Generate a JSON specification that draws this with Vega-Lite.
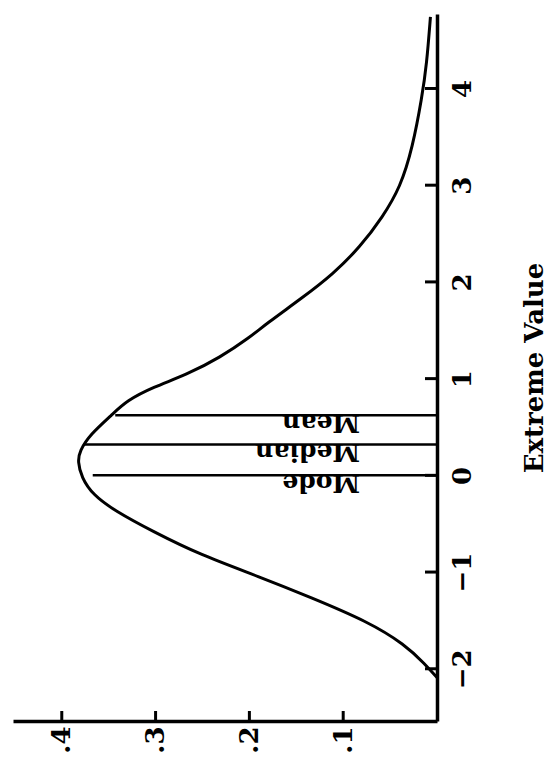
{
  "$schema": "https://vega.github.io/schema/vega-lite/v6.json",
  "width": 424,
  "height": 707,
  "padding": {"left": 13, "top": 10, "right": 0, "bottom": 0},
  "background": "white",
  "config": {"view": {"stroke": null}, "font": "DejaVu Serif"},
  "datasets": {
    "curve": [
      {"v": -2.09, "d": 0.0},
      {"v": -1.95, "d": 0.013},
      {"v": -1.75, "d": 0.034},
      {"v": -1.51, "d": 0.074},
      {"v": -1.26, "d": 0.135},
      {"v": -1.05, "d": 0.189},
      {"v": -0.82, "d": 0.253},
      {"v": -0.58, "d": 0.303},
      {"v": -0.37, "d": 0.343},
      {"v": -0.2, "d": 0.367},
      {"v": -0.02, "d": 0.379},
      {"v": 0.145, "d": 0.383},
      {"v": 0.25, "d": 0.381},
      {"v": 0.42, "d": 0.37},
      {"v": 0.63, "d": 0.346},
      {"v": 0.77, "d": 0.331},
      {"v": 0.91, "d": 0.303},
      {"v": 1.04, "d": 0.267},
      {"v": 1.22, "d": 0.231},
      {"v": 1.43, "d": 0.199},
      {"v": 1.56, "d": 0.183},
      {"v": 1.84, "d": 0.143},
      {"v": 2.08, "d": 0.111},
      {"v": 2.36, "d": 0.082},
      {"v": 2.67, "d": 0.058},
      {"v": 2.98, "d": 0.039},
      {"v": 3.39, "d": 0.026},
      {"v": 3.91, "d": 0.016},
      {"v": 4.25, "d": 0.011},
      {"v": 4.74, "d": 0.007}
    ],
    "lines": [
      {"label": "Mode", "v": 0, "dend": 0.367},
      {"label": "Median", "v": 0.32, "dend": 0.377},
      {"label": "Mean", "v": 0.62, "dend": 0.343}
    ],
    "xticks": [{"d": 0.1}, {"d": 0.2}, {"d": 0.3}, {"d": 0.4}],
    "yticks": [{"v": -2}, {"v": -1}, {"v": 0}, {"v": 1}, {"v": 2}, {"v": 3}, {"v": 4}]
  },
  "layer": [
    {
      "data": {"name": "curve"},
      "mark": {"type": "line", "color": "black", "strokeWidth": 3, "interpolate": "basis"},
      "encoding": {
        "x": {
          "field": "d",
          "type": "quantitative",
          "scale": {"domain": [0, 0.452], "reverse": true, "nice": false, "zero": false},
          "axis": {
            "orient": "bottom",
            "values": [0.1, 0.2, 0.3, 0.4],
            "labelExpr": "'.' + round(datum.value*10)",
            "labelAngle": -90,
            "labelAlign": "right",
            "labelBaseline": "middle",
            "labelFont": "DejaVu Serif",
            "labelFontWeight": "bold",
            "labelFontSize": 26,
            "labelColor": "black",
            "labelFlush": false,
            "labelOverlap": false,
            "labelPadding": 5,
            "ticks": false,
            "tickSize": 0,
            "domainColor": "black",
            "domainWidth": 3.5,
            "grid": false,
            "title": null
          }
        },
        "y": {
          "field": "v",
          "type": "quantitative",
          "scale": {"domain": [-2.54, 4.77], "nice": false, "zero": false},
          "axis": {
            "orient": "right",
            "values": [-2, -1, 0, 1, 2, 3, 4],
            "format": "d",
            "labelAngle": -90,
            "labelAlign": "center",
            "labelBaseline": "top",
            "labelFont": "DejaVu Serif",
            "labelFontWeight": "bold",
            "labelFontSize": 26,
            "labelColor": "black",
            "labelFlush": false,
            "labelOverlap": false,
            "labelPadding": 12,
            "ticks": false,
            "tickSize": 0,
            "domainColor": "black",
            "domainWidth": 3.5,
            "grid": false,
            "title": "Extreme Value",
            "titleAngle": -90,
            "titleBaseline": "top",
            "titleFont": "DejaVu Serif",
            "titleFontWeight": "bold",
            "titleFontSize": 26,
            "titleColor": "black",
            "titlePadding": 46
          }
        },
        "order": {"field": "v", "type": "quantitative"}
      }
    },
    {
      "data": {"name": "lines"},
      "mark": {"type": "rule", "color": "black", "strokeWidth": 2.5},
      "encoding": {
        "x": {"field": "dend", "type": "quantitative"},
        "x2": {"datum": 0},
        "y": {"field": "v", "type": "quantitative"}
      }
    },
    {
      "data": {"name": "xticks"},
      "mark": {"type": "tick", "color": "black", "orient": "vertical", "size": 10, "thickness": 3, "opacity": 1},
      "encoding": {
        "x": {"field": "d", "type": "quantitative"},
        "y": {"datum": -2.488, "type": "quantitative"}
      }
    },
    {
      "data": {"name": "yticks"},
      "mark": {"type": "tick", "color": "black", "orient": "horizontal", "size": 12, "thickness": 3, "opacity": 1},
      "encoding": {
        "y": {"field": "v", "type": "quantitative"},
        "x": {"datum": 0.0064, "type": "quantitative"}
      }
    },
    {
      "data": {"name": "lines"},
      "mark": {"type": "text", "angle": 180, "align": "left", "baseline": "alphabetic", "font": "DejaVu Serif", "fontWeight": "bold", "fontSize": 25, "color": "black"},
      "encoding": {
        "x": {"datum": 0.082, "type": "quantitative"},
        "y": {"field": "v", "type": "quantitative"},
        "text": {"field": "label", "type": "nominal"}
      }
    }
  ]
}
